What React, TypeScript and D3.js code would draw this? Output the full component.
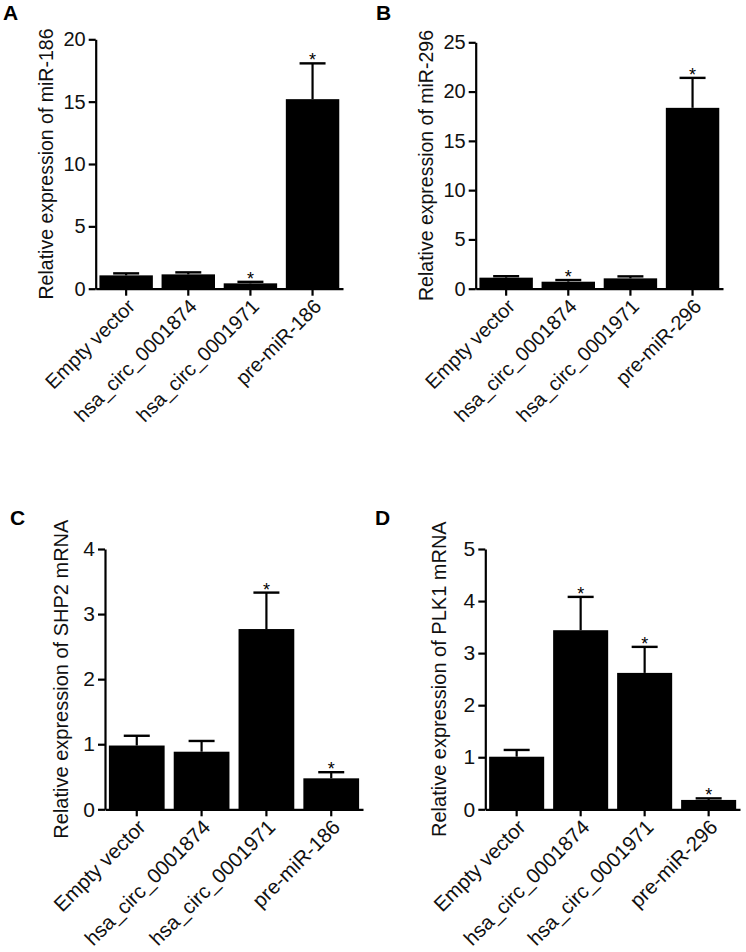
import * as d3 from 'd3'
import { useEffect, useRef } from 'react'

// group labels
const groupsA = ['Empty vector', 'hsa_circ_0001874', 'hsa_circ_0001971', 'pre-miR-186']
const groupsB = ['Empty vector', 'hsa_circ_0001874', 'hsa_circ_0001971', 'pre-miR-296']

// mean values
const meanA = [1.07, 1.15, 0.43, 15.2]
const meanB = [1.12, 0.71, 1.05, 18.35]
const meanC = [0.98, 0.885, 2.77, 0.476]
const meanD = [1.01, 3.44, 2.62, 0.18]

// upper error (SD)
const errA = [0.16, 0.16, 0.12, 2.87]
const errB = [0.15, 0.17, 0.2, 3.04]
const errC = [0.15, 0.165, 0.56, 0.094]
const errD = [0.13, 0.64, 0.5, 0.03]

// significance marks
const starA = [false, false, true, true]
const starB = [false, true, false, true]
const starC = [false, false, true, true]
const starD = [false, true, true, true]

// y tick labels
const ticksA = [0, 5, 10, 15, 20]
const ticksB = [0, 5, 10, 15, 20, 25]
const ticksC = [0, 1, 2, 3, 4]
const ticksD = [0, 1, 2, 3, 4, 5]

const FONT = 'Arial, "Liberation Sans", Helvetica, sans-serif'

interface PanelProps {
  letter: string
  title: string
  groups: string[]
  means: number[]
  errors: number[]
  stars: boolean[]
  ticks: number[]
  left: number
  right: number
  bottom: number
  top: number
  titleX: number
  letterX: number
  letterY: number
  titleSize: number
  tickSize: number
  labelSize: number
}

function Panel(p: PanelProps) {
  const axisLeftRef = useRef<SVGGElement>(null)
  const axisBottomRef = useRef<SVGGElement>(null)

  const max = p.ticks[p.ticks.length - 1]
  const y = d3.scaleLinear().domain([0, max]).range([p.bottom, p.top])
  const x = d3
    .scaleBand()
    .domain(p.groups)
    .range([p.left, p.right])
    .paddingInner(0.14)
    .paddingOuter(0.06)

  useEffect(() => {
    if (axisLeftRef.current) {
      const g = d3.select(axisLeftRef.current)
      g.call(
        d3
          .axisLeft(y)
          .tickValues(p.ticks)
          .tickFormat(d3.format('d'))
          .tickSize(7)
          .tickSizeOuter(0)
          .tickPadding(3),
      )
      g.attr('font-size', p.tickSize).attr('font-family', FONT)
      g.selectAll('.domain').attr('stroke-width', 2.2)
      g.selectAll('.tick line').attr('stroke-width', 2.2)
      g.selectAll('.tick text').attr('fill', '#111')
    }
    if (axisBottomRef.current) {
      const g = d3.select(axisBottomRef.current)
      g.call(d3.axisBottom(x).tickSize(7).tickSizeOuter(0))
      g.attr('font-size', p.labelSize).attr('font-family', FONT)
      g.selectAll('.domain').attr('stroke-width', 2.2)
      g.selectAll('.tick line').attr('stroke-width', 2.2)
      g.selectAll('.tick text')
        .attr('x', 0)
        .attr('y', 0)
        .attr('dy', '0.35em')
        .attr('text-anchor', 'end')
        .attr('fill', '#111')
        .attr('transform', 'translate(5,14) rotate(-45)')
    }
  }, [x, y, p.ticks, p.tickSize, p.labelSize])

  const bw = x.bandwidth()
  const midY = (p.bottom + p.top) / 2

  return (
    <g>
      <text
        x={p.letterX}
        y={p.letterY}
        fontFamily={FONT}
        fontWeight="bold"
        fontSize={21}
      >
        {p.letter}
      </text>
      <text
        transform={`translate(${p.titleX}, ${midY}) rotate(-90)`}
        textAnchor="middle"
        fontFamily={FONT}
        fontSize={p.titleSize}
        fill="#111"
      >
        {p.title}
      </text>
      {p.groups.map((g, i) => {
        const x0 = x(g) || 0
        const cx = x0 + bw / 2
        const yTop = y(p.means[i])
        const yErr = y(p.means[i] + p.errors[i])
        return (
          <g key={g}>
            <rect x={x0} y={yTop} width={bw} height={p.bottom - yTop} fill="#000" />
            <line x1={cx} x2={cx} y1={yTop} y2={yErr} stroke="#000" strokeWidth={2.2} />
            <line x1={cx - 13} x2={cx + 13} y1={yErr} y2={yErr} stroke="#000" strokeWidth={2.4} />
            {p.stars[i] && (
              <text
                x={cx}
                y={yErr + 3}
                textAnchor="middle"
                fontFamily={FONT}
                fontSize={18}
              >
                *
              </text>
            )}
          </g>
        )
      })}
      <g ref={axisBottomRef} transform={`translate(0, ${p.bottom})`} />
      <g ref={axisLeftRef} transform={`translate(${p.left}, 0)`} />
    </g>
  )
}

export default function App() {
  return (
    <svg
      width={746}
      height={952}
      style={{ position: 'absolute', left: 0, top: 0, background: '#fff' }}
    >
      <Panel
        letter="A"
        title="Relative expression of miR-186"
        groups={groupsA}
        means={meanA}
        errors={errA}
        stars={starA}
        ticks={ticksA}
        left={95.7}
        right={343}
        bottom={288.7}
        top={39.3}
        titleX={53}
        letterX={3}
        letterY={20}
        titleSize={19.5}
        tickSize={20}
        labelSize={20}
      />
      <Panel
        letter="B"
        title="Relative expression of miR-296"
        groups={groupsB}
        means={meanB}
        errors={errB}
        stars={starB}
        ticks={ticksB}
        left={475.7}
        right={723}
        bottom={288.7}
        top={42.3}
        titleX={433}
        letterX={376}
        letterY={20}
        titleSize={19.5}
        tickSize={20}
        labelSize={20}
      />
      <Panel
        letter="C"
        title="Relative expression of SHP2 mRNA"
        groups={groupsA}
        means={meanC}
        errors={errC}
        stars={starC}
        ticks={ticksC}
        left={105}
        right={363}
        bottom={809.3}
        top={549}
        titleX={68}
        letterX={10}
        letterY={525}
        titleSize={20}
        tickSize={21}
        labelSize={20.5}
      />
      <Panel
        letter="D"
        title="Relative expression of PLK1 mRNA"
        groups={groupsB}
        means={meanD}
        errors={errD}
        stars={starD}
        ticks={ticksD}
        left={485.3}
        right={740}
        bottom={809.3}
        top={549}
        titleX={446}
        letterX={375}
        letterY={525}
        titleSize={20}
        tickSize={21}
        labelSize={20.5}
      />
    </svg>
  )
}
